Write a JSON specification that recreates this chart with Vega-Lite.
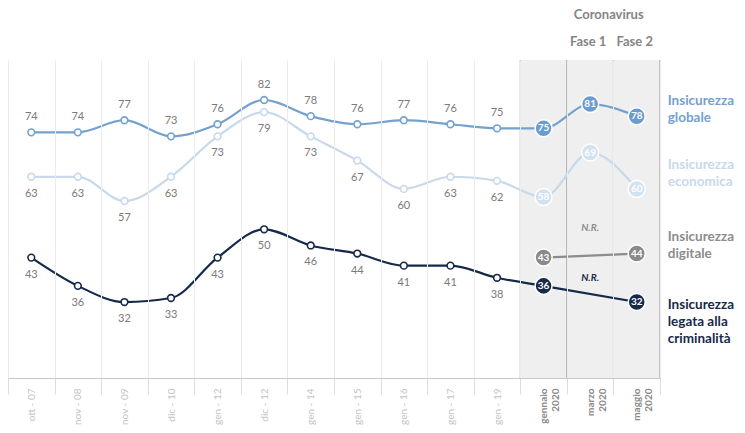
{
  "$schema": "https://vega.github.io/schema/vega-lite/v6.json",
  "autosize": {"type": "none"},
  "padding": {"left": 8, "top": 60, "right": 85, "bottom": 55},
  "width": 652,
  "height": 318,
  "background": "white",
  "config": {"view": {"stroke": null}, "font": "Lato"},
  "datasets": {
    "serie": [
      {"period": "ott - 07", "serie": "globale", "value": 74},
      {"period": "nov - 08", "serie": "globale", "value": 74},
      {"period": "nov - 09", "serie": "globale", "value": 77},
      {"period": "dic - 10", "serie": "globale", "value": 73},
      {"period": "gen - 12", "serie": "globale", "value": 76},
      {"period": "dic - 12", "serie": "globale", "value": 82},
      {"period": "gen - 14", "serie": "globale", "value": 78},
      {"period": "gen - 15", "serie": "globale", "value": 76},
      {"period": "gen - 16", "serie": "globale", "value": 77},
      {"period": "gen - 17", "serie": "globale", "value": 76},
      {"period": "gen - 19", "serie": "globale", "value": 75},
      {"period": "gennaio 2020", "serie": "globale", "value": 75},
      {"period": "marzo 2020", "serie": "globale", "value": 81},
      {"period": "maggio 2020", "serie": "globale", "value": 78},
      {"period": "ott - 07", "serie": "economica", "value": 63},
      {"period": "nov - 08", "serie": "economica", "value": 63},
      {"period": "nov - 09", "serie": "economica", "value": 57},
      {"period": "dic - 10", "serie": "economica", "value": 63},
      {"period": "gen - 12", "serie": "economica", "value": 73},
      {"period": "dic - 12", "serie": "economica", "value": 79},
      {"period": "gen - 14", "serie": "economica", "value": 73},
      {"period": "gen - 15", "serie": "economica", "value": 67},
      {"period": "gen - 16", "serie": "economica", "value": 60},
      {"period": "gen - 17", "serie": "economica", "value": 63},
      {"period": "gen - 19", "serie": "economica", "value": 62},
      {"period": "gennaio 2020", "serie": "economica", "value": 58},
      {"period": "marzo 2020", "serie": "economica", "value": 69},
      {"period": "maggio 2020", "serie": "economica", "value": 60},
      {"period": "gennaio 2020", "serie": "digitale", "value": 43},
      {"period": "maggio 2020", "serie": "digitale", "value": 44},
      {"period": "ott - 07", "serie": "criminalita", "value": 43},
      {"period": "nov - 08", "serie": "criminalita", "value": 36},
      {"period": "nov - 09", "serie": "criminalita", "value": 32},
      {"period": "dic - 10", "serie": "criminalita", "value": 33},
      {"period": "gen - 12", "serie": "criminalita", "value": 43},
      {"period": "dic - 12", "serie": "criminalita", "value": 50},
      {"period": "gen - 14", "serie": "criminalita", "value": 46},
      {"period": "gen - 15", "serie": "criminalita", "value": 44},
      {"period": "gen - 16", "serie": "criminalita", "value": 41},
      {"period": "gen - 17", "serie": "criminalita", "value": 41},
      {"period": "gen - 19", "serie": "criminalita", "value": 38},
      {"period": "gennaio 2020", "serie": "criminalita", "value": 36},
      {"period": "maggio 2020", "serie": "criminalita", "value": 32}
    ],
    "legend": [
      {"period": "maggio 2020", "serie": "globale", "value": 81.8, "label": "Insicurezza\nglobale"},
      {"period": "maggio 2020", "serie": "economica", "value": 65.9, "label": "Insicurezza\neconomica"},
      {"period": "maggio 2020", "serie": "digitale", "value": 48.1, "label": "Insicurezza\ndigitale"},
      {"period": "maggio 2020", "serie": "criminalita", "value": 31.3, "label": "Insicurezza\nlegata alla\ncriminalità"}
    ],
    "nr": [
      {"period": "marzo 2020", "serie": "digitale", "value": 50.3, "label": "N.R."},
      {"period": "marzo 2020", "serie": "criminalita", "value": 38, "label": "N.R."}
    ],
    "fase": [
      {"period": "marzo 2020", "value": 96.4, "label": "Fase 1"},
      {"period": "maggio 2020", "value": 96.4, "label": "Fase 2"}
    ],
    "corona": [
      {"period": "maggio 2020", "value": 103, "label": "Coronavirus"}
    ],
    "band": [
      {"period": "gennaio 2020"},
      {"period": "marzo 2020"},
      {"period": "maggio 2020"}
    ]
  },
  "encoding": {
    "x": {
      "field": "period",
      "type": "nominal",
      "scale": {
        "domain": ["ott - 07", "nov - 08", "nov - 09", "dic - 10", "gen - 12", "dic - 12", "gen - 14", "gen - 15", "gen - 16", "gen - 17", "gen - 19", "gennaio 2020", "marzo 2020", "maggio 2020"],
        "paddingInner": 0,
        "paddingOuter": 0
      },
      "axis": {
        "title": null,
        "grid": true,
        "gridColor": "#ececec",
        "tickBand": "extent",
        "domainColor": "#c8c8c8",
        "tickColor": "#dddddd",
        "tickSize": 16,
        "labelAngle": -90,
        "labelPadding": -6,
        "labelFontSize": 10,
        "labelFont": "Lato",
        "labelLineHeight": 12,
        "labelColor": {"condition": {"test": "indexof(datum.label, '2020') >= 0", "value": "#8a8a8a"}, "value": "#c4c4c4"},
        "labelFontWeight": {"condition": {"test": "indexof(datum.label, '2020') >= 0", "value": "bold"}, "value": "normal"},
        "labelExpr": "indexof(datum.label, '2020') >= 0 ? split(datum.label, ' ') : datum.label"
      }
    }
  },
  "layer": [
    {
      "data": {"name": "band"},
      "mark": {"type": "rect", "fill": "#efefef"},
      "encoding": {
        "y": {"datum": 91.9, "type": "quantitative", "scale": {"domain": [13.2, 91.9], "nice": false, "zero": false}, "axis": null},
        "y2": {"datum": 13.2}
      }
    },
    {
      "data": {"name": "band"},
      "mark": {"type": "rule", "color": "#9a9a9a", "strokeWidth": 1},
      "encoding": {
        "x": {"field": "period", "type": "nominal", "bandPosition": 0},
        "y": {"datum": 91.9, "type": "quantitative", "scale": {"domain": [13.2, 91.9], "nice": false, "zero": false}, "axis": null},
        "y2": {"datum": 13.2}
      }
    },
    {
      "data": {"values": [{"period": "maggio 2020"}]},
      "mark": {"type": "rule", "color": "#9a9a9a", "strokeWidth": 1},
      "encoding": {
        "x": {"field": "period", "type": "nominal", "bandPosition": 1},
        "y": {"datum": 91.9, "type": "quantitative", "scale": {"domain": [13.2, 91.9], "nice": false, "zero": false}, "axis": null},
        "y2": {"datum": 13.2}
      }
    },
    {
      "data": {"name": "serie"},
      "mark": {"type": "line", "interpolate": "monotone", "strokeWidth": 2.2},
      "encoding": {
        "y": {"field": "value", "type": "quantitative", "scale": {"domain": [13.2, 91.9], "nice": false, "zero": false}, "axis": null},
        "color": {
          "field": "serie",
          "type": "nominal",
          "scale": {"domain": ["globale", "economica", "digitale", "criminalita"], "range": ["#74a1cf", "#c7d9eb", "#8c8c8c", "#16294a"]},
          "legend": null
        },
        "detail": {"field": "serie"}
      }
    },
    {
      "data": {"name": "serie"},
      "transform": [{"filter": "indexof(datum.period, '2020') < 0"}],
      "mark": {"type": "point", "filled": true, "fill": "white", "size": 45, "strokeWidth": 1.6, "opacity": 1},
      "encoding": {
        "y": {"field": "value", "type": "quantitative", "scale": {"domain": [13.2, 91.9], "nice": false, "zero": false}, "axis": null},
        "stroke": {"field": "serie", "type": "nominal", "scale": {"domain": ["globale", "economica", "digitale", "criminalita"], "range": ["#74a1cf", "#c7d9eb", "#8c8c8c", "#16294a"]}, "legend": null}
      }
    },
    {
      "data": {"name": "serie"},
      "transform": [{"filter": "indexof(datum.period, '2020') >= 0"}],
      "mark": {"type": "circle", "size": 290, "stroke": "white", "strokeWidth": 1.5, "opacity": 1},
      "encoding": {
        "y": {"field": "value", "type": "quantitative", "scale": {"domain": [13.2, 91.9], "nice": false, "zero": false}, "axis": null},
        "fill": {"field": "serie", "type": "nominal", "scale": {"domain": ["globale", "economica", "digitale", "criminalita"], "range": ["#6b9ccf", "#d3e2f1", "#8a8a8a", "#16294a"]}, "legend": null}
      }
    },
    {
      "data": {"name": "serie"},
      "transform": [{"filter": "indexof(datum.period, '2020') >= 0"}],
      "mark": {"type": "text", "color": "white", "fontSize": 10, "fontWeight": "bold", "baseline": "middle"},
      "encoding": {
        "y": {"field": "value", "type": "quantitative", "scale": {"domain": [13.2, 91.9], "nice": false, "zero": false}, "axis": null},
        "text": {"field": "value", "type": "quantitative"}
      }
    },
    {
      "data": {"name": "serie"},
      "transform": [{"filter": "indexof(datum.period, '2020') < 0 && datum.serie == 'globale'"}],
      "mark": {"type": "text", "color": "#7a7a7a", "fontSize": 11, "dy": -15, "baseline": "middle"},
      "encoding": {
        "y": {"field": "value", "type": "quantitative", "scale": {"domain": [13.2, 91.9], "nice": false, "zero": false}, "axis": null},
        "text": {"field": "value", "type": "quantitative"}
      }
    },
    {
      "data": {"name": "serie"},
      "transform": [{"filter": "indexof(datum.period, '2020') < 0 && datum.serie != 'globale'"}],
      "mark": {"type": "text", "color": "#7a7a7a", "fontSize": 11, "dy": 17, "baseline": "middle"},
      "encoding": {
        "y": {"field": "value", "type": "quantitative", "scale": {"domain": [13.2, 91.9], "nice": false, "zero": false}, "axis": null},
        "text": {"field": "value", "type": "quantitative"}
      }
    },
    {
      "data": {"name": "nr"},
      "mark": {"type": "text", "fontSize": 10, "fontWeight": "bold", "fontStyle": "italic", "baseline": "middle"},
      "encoding": {
        "y": {"field": "value", "type": "quantitative", "scale": {"domain": [13.2, 91.9], "nice": false, "zero": false}, "axis": null},
        "text": {"field": "label"},
        "color": {"field": "serie", "type": "nominal", "scale": {"domain": ["globale", "economica", "digitale", "criminalita"], "range": ["#74a1cf", "#c7d9eb", "#8c8c8c", "#16294a"]}, "legend": null}
      }
    },
    {
      "data": {"name": "legend"},
      "mark": {"type": "text", "fontSize": 13.5, "fontWeight": "bold", "align": "left", "baseline": "middle", "dx": 31, "lineBreak": "\n", "lineHeight": 17},
      "encoding": {
        "y": {"field": "value", "type": "quantitative", "scale": {"domain": [13.2, 91.9], "nice": false, "zero": false}, "axis": null},
        "text": {"field": "label"},
        "color": {"field": "serie", "type": "nominal", "scale": {"domain": ["globale", "economica", "digitale", "criminalita"], "range": ["#6c9ecf", "#c9dbee", "#8a8a8a", "#1b2d4d"]}, "legend": null}
      }
    },
    {
      "data": {"name": "fase"},
      "mark": {"type": "text", "fontSize": 13, "fontWeight": "bold", "color": "#858585", "baseline": "middle", "dx": -2},
      "encoding": {
        "y": {"field": "value", "type": "quantitative", "scale": {"domain": [13.2, 91.9], "nice": false, "zero": false}, "axis": null},
        "text": {"field": "label"}
      }
    },
    {
      "data": {"name": "corona"},
      "mark": {"type": "text", "fontSize": 13, "fontWeight": "bold", "color": "#858585", "baseline": "middle", "dx": -28},
      "encoding": {
        "y": {"field": "value", "type": "quantitative", "scale": {"domain": [13.2, 91.9], "nice": false, "zero": false}, "axis": null},
        "text": {"field": "label"}
      }
    }
  ]
}
